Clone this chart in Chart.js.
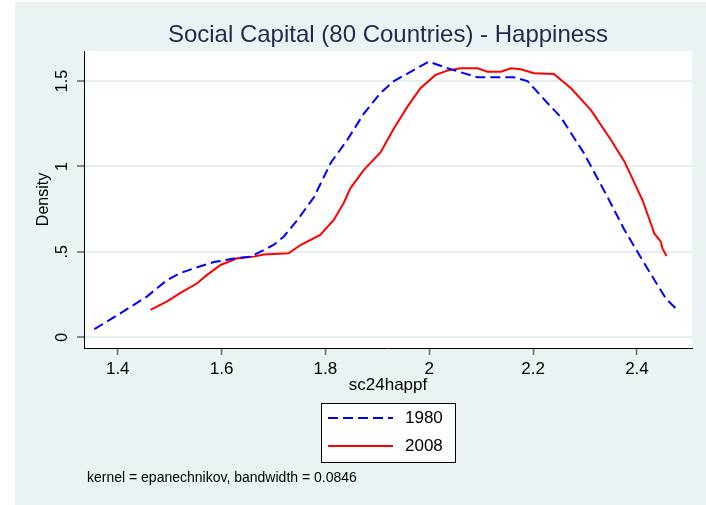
<!DOCTYPE html>
<html lang="en">
  <head>
    <meta charset="UTF-8" />
    <title>Social Capital - Happiness</title>
    <script src="https://cdn.jsdelivr.net/npm/chart.js"></script>
    <style>
      body { margin: 0; background: #fff; }
    </style>
  </head>
  <body>
    <canvas id="chart" width="706" height="505"></canvas>
    <script>
      // kernel density readings (x = sc24happf, y = density)
      const x1980 = [1.355, 1.405, 1.456, 1.495, 1.52, 1.553, 1.585, 1.63, 1.656, 1.70, 1.72, 1.746, 1.778, 1.81, 1.842, 1.874, 1.906, 1.932, 1.999, 2.035, 2.093, 2.163, 2.189, 2.228, 2.253, 2.298, 2.343, 2.376, 2.414, 2.456, 2.481];
      const y1980 = [0.047, 0.14, 0.238, 0.335, 0.375, 0.41, 0.44, 0.464, 0.472, 0.54, 0.59, 0.687, 0.82, 1.02, 1.155, 1.31, 1.43, 1.50, 1.614, 1.575, 1.522, 1.522, 1.50, 1.37, 1.29, 1.077, 0.823, 0.628, 0.433, 0.225, 0.15];
      const x2008 = [1.463, 1.495, 1.52, 1.553, 1.572, 1.598, 1.63, 1.662, 1.681, 1.729, 1.752, 1.79, 1.816, 1.835, 1.848, 1.874, 1.906, 1.932, 1.958, 1.983, 2.012, 2.035, 2.06, 2.093, 2.112, 2.138, 2.157, 2.176, 2.202, 2.24, 2.273, 2.311, 2.35, 2.376, 2.411, 2.43, 2.433, 2.446, 2.449, 2.457];
      const y2008 = [0.16, 0.21, 0.258, 0.316, 0.365, 0.423, 0.462, 0.472, 0.484, 0.492, 0.54, 0.599, 0.687, 0.785, 0.872, 0.98, 1.082, 1.224, 1.35, 1.458, 1.536, 1.561, 1.575, 1.575, 1.555, 1.555, 1.575, 1.569, 1.546, 1.542, 1.458, 1.331, 1.155, 1.028, 0.80, 0.638, 0.609, 0.56, 0.52, 0.476];

      const seriesNames = ["1980", "2008"];
      const xTicks = [1.4, 1.6, 1.8, 2.0, 2.2, 2.4];
      const xTickLabels = ["1.4", "1.6", "1.8", "2", "2.2", "2.4"];
      const yTicks = [0, 0.5, 1, 1.5];
      const yTickLabels = ["0", ".5", "1", "1.5"];
      const note = "kernel = epanechnikov, bandwidth = 0.0846";

      const FONT = "'Liberation Sans', Arial, sans-serif";

      function toPoints(xs, ys) {
        return xs.map((x, i) => ({ x: x, y: ys[i] }));
      }

      // stata-like background: light graph region, white plot region
      const background = {
        id: "background",
        beforeDraw(chart) {
          const { ctx, chartArea: a } = chart;
          ctx.save();
          ctx.fillStyle = "#ffffff";
          ctx.fillRect(0, 0, chart.width, chart.height);
          ctx.fillStyle = "#eaf2f3";
          ctx.fillRect(15, 2, chart.width - 15, chart.height - 2);
          ctx.fillStyle = "#ffffff";
          ctx.fillRect(a.left, a.top, a.right - a.left, a.bottom - a.top);
          ctx.restore();
        },
      };

      // vertical y tick labels, the boxed legend and the note
      const extras = {
        id: "extras",
        afterDraw(chart) {
          const ctx = chart.ctx;
          const ys = chart.scales.y;
          ctx.save();
          ctx.fillStyle = "#000";
          ctx.font = "16px " + FONT;
          ctx.textAlign = "center";
          ctx.textBaseline = "middle";
          yTicks.forEach((v, i) => {
            ctx.save();
            ctx.translate(63, ys.getPixelForValue(v));
            ctx.rotate(-Math.PI / 2);
            ctx.fillText(yTickLabels[i], 0, 0);
            ctx.restore();
          });

          // legend box
          ctx.fillStyle = "#ffffff";
          ctx.fillRect(321.5, 403.5, 134, 59);
          ctx.strokeStyle = "#000";
          ctx.lineWidth = 1;
          ctx.strokeRect(321.5, 403.5, 134, 59);
          chart.data.datasets.forEach((ds, i) => {
            const y = 418 + i * 28;
            ctx.beginPath();
            ctx.setLineDash(ds.borderDash || []);
            ctx.strokeStyle = ds.borderColor;
            ctx.lineWidth = ds.borderWidth;
            ctx.moveTo(328, y);
            ctx.lineTo(393, y);
            ctx.stroke();
            ctx.setLineDash([]);
            ctx.fillStyle = "#000";
            ctx.font = "17px " + FONT;
            ctx.textAlign = "left";
            ctx.fillText(ds.label, 405, y);
          });

          ctx.font = "14px " + FONT;
          ctx.textAlign = "left";
          ctx.fillStyle = "#000";
          ctx.fillText(note, 87, 478);
          ctx.restore();
        },
      };

      const ctx = document.getElementById("chart");
      const myChart = new Chart(ctx, {
        type: "line",
        data: {
          datasets: [
            {
              label: seriesNames[0],
              data: toPoints(x1980, y1980),
              borderColor: "#0000ff",
              borderWidth: 2,
              borderDash: [10, 5],
              pointRadius: 0,
              tension: 0,
            },
            {
              label: seriesNames[1],
              data: toPoints(x2008, y2008),
              borderColor: "#ff0000",
              borderWidth: 2,
              pointRadius: 0,
              tension: 0,
            },
          ],
        },
        options: {
          responsive: false,
          animation: false,
          events: [],
          layout: { padding: { left: 15, right: 14, top: 0, bottom: 107 } },
          plugins: {
            legend: { display: false },
            tooltip: { enabled: false },
            title: {
              display: true,
              fullSize: false,
              text: "Social Capital (80 Countries) - Happiness",
              color: "#1e2b4a",
              font: { family: FONT, size: 24, weight: "normal" },
              padding: { top: 20.6, bottom: 1.6 },
            },
          },
          scales: {
            x: {
              type: "linear",
              min: 1.335,
              max: 2.506,
              afterBuildTicks: (s) => { s.ticks = xTicks.map((v) => ({ value: v })); },
              afterFit: (s) => { s.height = 50; },
              ticks: {
                color: "#000",
                font: { family: FONT, size: 17 },
                padding: 4,
                maxRotation: 0,
                callback: (v) => xTickLabels[xTicks.indexOf(v)],
              },
              grid: { drawOnChartArea: false, tickLength: 7, tickColor: "#666", tickWidth: 1.5 },
              border: { color: "#000", width: 1 },
              title: {
                display: true,
                text: "sc24happf",
                color: "#000",
                font: { family: FONT, size: 17 },
                padding: { top: 0, bottom: 2.4 },
              },
            },
            y: {
              min: -0.063,
              max: 1.676,
              afterBuildTicks: (s) => { s.ticks = yTicks.map((v) => ({ value: v })); },
              afterFit: (s) => { s.width = 69; },
              ticks: { display: false },
              grid: { color: "#e6eef0", lineWidth: 2, tickLength: 7, tickColor: "#666", tickWidth: 1.5 },
              border: { color: "#000", width: 1 },
              title: {
                display: true,
                text: "Density",
                color: "#000",
                font: { family: FONT, size: 16 },
                padding: { top: 19.4, bottom: 0 },
              },
            },
          },
        },
        plugins: [background, extras],
      });
    </script>
  </body>
</html>
